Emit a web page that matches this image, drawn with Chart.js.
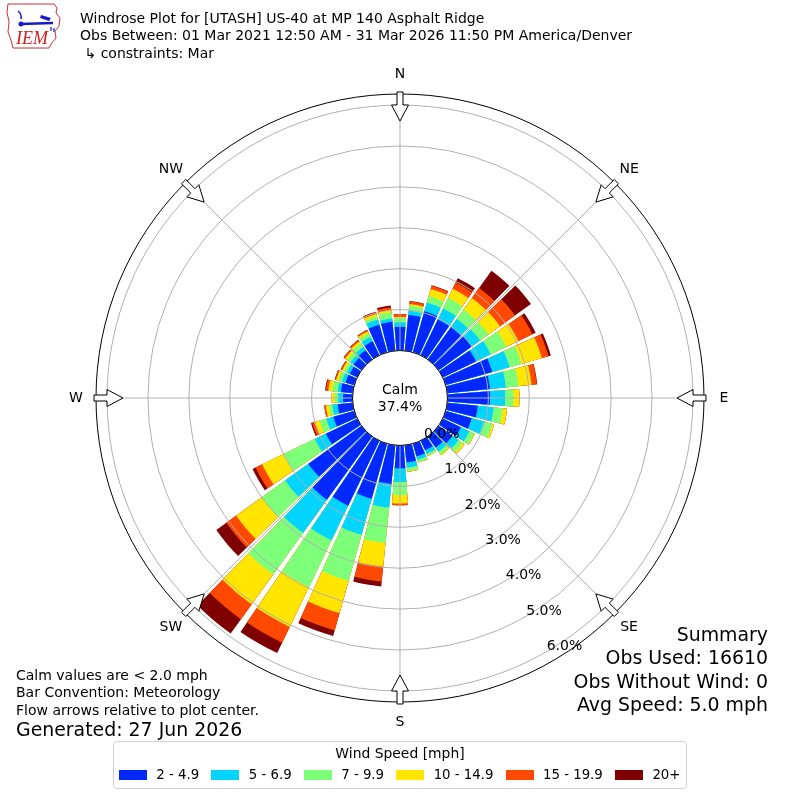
<!DOCTYPE html>
<html>
<head>
<meta charset="utf-8">
<script src="https://cdn.jsdelivr.net/npm/chart.js@4.4.1/dist/chart.umd.min.js"></script>
<style>
body { margin: 0; background: #fff; font-family: "DejaVu Sans", sans-serif; color: #000; }
#wrap { position: relative; width: 800px; height: 800px; overflow: hidden; }
#rose { position: absolute; left: 0; top: 0; }
.txt { position: absolute; white-space: nowrap; font-size: 14px; line-height: 17.4px; }
.big { font-size: 18.9px; line-height: 23.3px; }
#summary { right: 32px; top: 623px; text-align: right; }
#legend { position: absolute; left: 113px; top: 741px; width: 572px; height: 46px;
  border: 1px solid #d0d0d0; border-radius: 4px; }
#legend .title { text-align: center; margin-top: 2px; font-size: 13.9px; line-height: 18px; }
#legend .items { display: flex; padding-left: 5px; margin-top: 4px; align-items: center; font-size: 13.3px; }
#legend .sw { width: 28px; height: 10px; margin-right: 9.3px; flex-shrink: 0; }
#legend .lab { margin-right: 12.3px; line-height: 17px; white-space: nowrap; flex-shrink: 0; }
</style>
</head>
<body>
<div id="wrap">
  <canvas id="rose" width="800" height="800"></canvas>

  <svg style="position:absolute;left:5px;top:2px" width="62" height="48" viewBox="0 0 62 48">
    <path d="M3 2 L49 2 L52 6 L51 11 L55 16 L54 24 L50 29 L51 36 L46 42 L44 46 L8 46 L6 38 L3 30 L4 20 L2 10 Z"
          fill="none" stroke="#c83232" stroke-width="1"/>
    <line x1="15" y1="22" x2="48" y2="21" stroke="#1818c8" stroke-width="2.5"/>
    <path d="M36 13 L46 16 L44 19 L35 16 Z" fill="#1818c8"/>
    <path d="M13 9 Q17 12 16 17" fill="none" stroke="#1818c8" stroke-width="1.5"/>
    <circle cx="16" cy="22" r="2.5" fill="#1818c8"/>
    <path d="M46 25 L46 29 M49 26 L49 30" stroke="#1818c8" stroke-width="1.2"/>
    <text x="11" y="42" font-family="Liberation Serif" font-style="italic" font-size="18" fill="#d02020">IEM</text>
  </svg>

  <div class="txt" style="left:80px;top:10px">
    Windrose Plot for [UTASH] US-40 at MP 140 Asphalt Ridge<br>
    Obs Between: 01 Mar 2021 12:50 AM - 31 Mar 2026 11:50 PM America/Denver<br>
    &nbsp;↳ constraints: Mar
  </div>

  <div class="txt" style="left:16px;top:667px">
    Calm values are &lt; 2.0 mph<br>
    Bar Convention: Meteorology<br>
    Flow arrows relative to plot center.
  </div>
  <div class="txt big" style="left:16px;top:718px">Generated: 27 Jun 2026</div>

  <div id="summary" class="txt big">
    Summary<br>
    Obs Used: 16610<br>
    Obs Without Wind: 0<br>
    Avg Speed: 5.0 mph
  </div>

  <div id="legend">
    <div class="title">Wind Speed [mph]</div>
    <div class="items" id="legendItems"></div>
  </div>
</div>

<script>
// direction bins (degrees, meteorological, centre of 10 degree bin)
const directions = [0, 10, 20, 30, 40, 50, 60, 70, 80, 90, 100, 110, 120, 130, 140, 150, 160, 170,
                    180, 190, 200, 210, 220, 230, 240, 250, 260, 270, 280, 290, 300, 310, 320, 330, 340, 350];

const speedLabels = ['2 - 4.9', '5 - 6.9', '7 - 9.9', '10 - 14.9', '15 - 19.9', '20+'];
const speedColors = ['#0028ff', '#00d4ff', '#7dff7a', '#ffe500', '#ff4800', '#7f0000'];

// percent of observations per direction for each speed class
const spd2to5 = [0.58, 0.88, 1.04, 0.97, 0.97, 1.00, 0.90, 1.18, 1.05, 1.04, 0.75, 0.66, 0.49, 0.42, 0.33, 0.26, 0.32, 0.42,
                 0.56, 0.95, 1.40, 1.76, 1.90, 1.60, 0.85, 0.53, 0.37, 0.23, 0.29, 0.22, 0.20, 0.24, 0.28, 0.38, 0.70, 0.71];
const spd5to7 = [0.11, 0.10, 0.22, 0.30, 0.25, 0.25, 0.40, 0.44, 0.39, 0.37, 0.39, 0.31, 0.23, 0.18, 0.12, 0.10, 0.09, 0.13,
                 0.33, 0.58, 0.91, 0.94, 1.00, 0.70, 0.30, 0.18, 0.13, 0.12, 0.08, 0.09, 0.08, 0.09, 0.10, 0.12, 0.13, 0.08];
const spd7to10 = [0.11, 0.13, 0.17, 0.28, 0.28, 0.25, 0.42, 0.30, 0.31, 0.20, 0.22, 0.21, 0.13, 0.12, 0.08, 0.04, 0.06, 0.08,
                  0.32, 0.87, 1.17, 1.27, 1.25, 0.70, 0.85, 0.17, 0.08, 0.08, 0.13, 0.09, 0.08, 0.10, 0.10, 0.09, 0.08, 0.15];
const spd10to15 = [0.02, 0.04, 0.18, 0.25, 0.35, 0.35, 0.33, 0.52, 0.32, 0.15, 0.11, 0.05, 0.02, 0.06, 0.03, 0.01, 0.01, 0.02,
                   0.21, 0.58, 0.82, 1.08, 0.90, 0.77, 0.58, 0.13, 0.08, 0.08, 0.10, 0.06, 0.05, 0.06, 0.06, 0.06, 0.06, 0.06];
const spd15to20 = [0.07, 0.06, 0.08, 0.17, 0.30, 0.45, 0.38, 0.17, 0.13, 0.00, 0.00, 0.00, 0.00, 0.00, 0.00, 0.00, 0.00, 0.00,
                   0.04, 0.37, 0.44, 0.43, 0.45, 0.30, 0.18, 0.06, 0.04, 0.00, 0.06, 0.03, 0.03, 0.04, 0.04, 0.03, 0.05, 0.07];
const spd20up = [0.00, 0.01, 0.01, 0.12, 0.52, 0.48, 0.09, 0.06, 0.01, 0.00, 0.00, 0.00, 0.00, 0.00, 0.00, 0.00, 0.00, 0.00,
                 0.00, 0.12, 0.14, 0.28, 0.43, 0.30, 0.08, 0.03, 0.00, 0.00, 0.02, 0.01, 0.01, 0.01, 0.01, 0.01, 0.01, 0.04];

const calmPct = 37.4;
const radialTicks = [0, 1, 2, 3, 4, 5, 6];
const compass = [['N', 0], ['NE', 45], ['E', 90], ['SE', 135], ['S', 180], ['SW', 225], ['W', 270], ['NW', 315]];

const speedClasses = [spd2to5, spd5to7, spd7to10, spd10to15, spd15to20, spd20up];
const barAngle = 8.6;   // degrees covered by a bar
const gapAngle = 10 - barAngle;

// each bin is a bar followed by an empty gap element
const labels = [];
directions.forEach(d => { labels.push(d + '°'); labels.push(''); });

// stack: every dataset holds the running total, smallest drawn on top
let running = directions.map(() => 0);
const datasets = speedClasses.map((vals, k) => {
    running = running.map((r, i) => r + vals[i]);
    const data = [];
    running.forEach(v => { data.push(+v.toFixed(3)); data.push(null); });
    return {
        label: speedLabels[k],
        data: data,
        backgroundColor: speedColors[k],
        borderWidth: 0,
        angle: ctx => (ctx.dataIndex % 2 ? gapAngle : barAngle)
    };
});

function toXY(cx, cy, deg, r) {
    const a = (deg - 90) * Math.PI / 180;
    return [cx + r * Math.cos(a), cy + r * Math.sin(a)];
}

const roseDecor = {
    id: 'roseDecor',
    afterDatasetsDraw(chart) {
        const ctx = chart.ctx;
        const s = chart.scales.r;
        const cx = s.xCenter, cy = s.yCenter;
        const outer = s.drawingArea;
        const rad = v => s.getDistanceFromCenterForValue(v);
        ctx.save();

        // grid rings and spokes over the bars
        ctx.strokeStyle = '#b0b0b0';
        ctx.lineWidth = 1;
        radialTicks.forEach(v => {
            ctx.beginPath();
            ctx.arc(cx, cy, rad(v), 0, 2 * Math.PI);
            ctx.stroke();
        });
        compass.forEach(([, deg]) => {
            const [x, y] = toXY(cx, cy, deg, outer);
            ctx.beginPath();
            ctx.moveTo(cx, cy);
            ctx.lineTo(x, y);
            ctx.stroke();
        });

        ctx.strokeStyle = '#000';
        ctx.beginPath();
        ctx.arc(cx, cy, outer, 0, 2 * Math.PI);
        ctx.stroke();

        // calm circle
        ctx.fillStyle = '#fff';
        ctx.beginPath();
        ctx.arc(cx, cy, rad(0), 0, 2 * Math.PI);
        ctx.fill();
        ctx.stroke();

        ctx.fillStyle = '#000';
        ctx.font = '14px "DejaVu Sans"';
        ctx.textAlign = 'center';
        ctx.textBaseline = 'middle';
        ctx.fillText('Calm', cx, cy - 8);
        ctx.fillText(calmPct.toFixed(1) + '%', cx, cy + 9);

        // flow arrows, pointing to the centre
        const tip = outer - 27, base = outer - 11, tail = outer + 2;
        compass.forEach(([, deg]) => {
            const a = (deg - 90) * Math.PI / 180;
            const ux = Math.cos(a), uy = Math.sin(a), px = -uy, py = ux;
            const pt = (r, w) => [cx + r * ux + w * px, cy + r * uy + w * py];
            const poly = [pt(tip, 0), pt(base, 8.5), pt(base, 3), pt(tail, 3),
                          pt(tail, -3), pt(base, -3), pt(base, -8.5)];
            ctx.beginPath();
            poly.forEach(([x, y], i) => (i ? ctx.lineTo(x, y) : ctx.moveTo(x, y)));
            ctx.closePath();
            ctx.fillStyle = '#fff';
            ctx.fill();
            ctx.strokeStyle = '#000';
            ctx.stroke();
        });

        // compass labels
        ctx.fillStyle = '#000';
        compass.forEach(([name, deg]) => {
            const [x, y] = toXY(cx, cy, deg, outer + 20);
            ctx.fillText(name, x, y);
        });

        // radial tick labels along 150 degrees
        radialTicks.forEach(v => {
            const [x, y] = toXY(cx, cy, 150, rad(v));
            ctx.fillText(v.toFixed(1) + '%', x + 18, y - 5);
        });
        ctx.restore();
    }
};

new Chart(document.getElementById('rose'), {
    type: 'polarArea',
    data: { labels: labels, datasets: datasets },
    options: {
        responsive: false,
        animation: false,
        events: [],
        layout: { padding: { left: 96, right: 96, top: 94, bottom: 98 } },
        plugins: { legend: { display: false }, tooltip: { enabled: false } },
        scales: {
            r: {
                min: -1.16,
                max: 6.27,
                startAngle: -barAngle / 2,
                ticks: { display: false },
                grid: { display: false },
                angleLines: { display: false },
                pointLabels: { display: false }
            }
        }
    },
    plugins: [roseDecor]
});

// legend row
const items = document.getElementById('legendItems');
speedLabels.forEach((name, k) => {
    const sw = document.createElement('div');
    sw.className = 'sw';
    sw.style.background = speedColors[k];
    const lab = document.createElement('div');
    lab.className = 'lab';
    lab.textContent = name;
    items.appendChild(sw);
    items.appendChild(lab);
});
</script>
</body>
</html>
